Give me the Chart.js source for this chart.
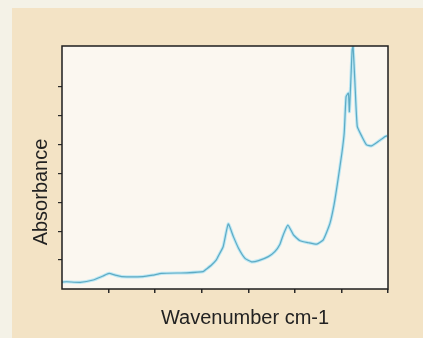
<!DOCTYPE html>
<html>
<head>
<meta charset="utf-8">
<script src="https://cdn.jsdelivr.net/npm/chart.js@4.4.1/dist/chart.umd.min.js"></script>
<style>
  html, body { margin: 0; padding: 0; width: 423px; height: 338px; overflow: hidden; background: #f4f2e7; }
  #panel { position: absolute; left: 12px; top: 8px; width: 411px; height: 330px; background: #f3e3c5; }
  #wrap { position: absolute; left: 0; top: 0; width: 423px; height: 338px; }
</style>
</head>
<body>
<div id="panel"></div>
<div id="wrap"><canvas id="c" width="423" height="338"></canvas></div>
<script>
// Data (x in axis units 0..7, no tick labels shown)
const wavenumberPos = [0.00, 0.10, 0.39, 0.67, 0.88, 1.01, 1.14, 1.28, 1.74, 1.95, 2.14, 2.68, 3.03, 3.11, 3.21, 3.31, 3.35, 3.46, 3.57, 3.68, 3.79, 3.93, 4.07, 4.22, 4.43, 4.57, 4.68, 4.75, 4.85, 4.97, 5.11, 5.29, 5.47, 5.61, 5.75, 5.84, 5.91, 6.01, 6.06, 6.10, 6.15, 6.17, 6.20, 6.23, 6.25, 6.29, 6.34, 6.44, 6.54, 6.65, 6.79, 6.94, 6.98];
const absorbance    = [0.24, 0.25, 0.23, 0.31, 0.45, 0.54, 0.48, 0.43, 0.43, 0.48, 0.54, 0.56, 0.60, 0.70, 0.83, 1.00, 1.12, 1.46, 2.25, 1.81, 1.41, 1.06, 0.94, 0.98, 1.12, 1.29, 1.55, 1.87, 2.21, 1.87, 1.67, 1.60, 1.55, 1.70, 2.25, 2.90, 3.60, 4.70, 5.40, 6.65, 6.77, 6.13, 7.13, 8.27, 8.38, 7.13, 5.62, 5.27, 4.98, 4.95, 5.10, 5.27, 5.30];
const xTickValues = [1, 2, 3, 4, 5, 6, 7];
const yTickValues = [1, 2, 3, 4, 5, 6, 7];
const xTitle = 'Wavenumber cm-1';
const yTitle = 'Absorbance';

const points = wavenumberPos.map((x, i) => ({ x: x, y: absorbance[i] }));

const framePlugin = {
  id: 'frame',
  beforeDatasetsDraw(chart) {
    const { ctx, chartArea: a } = chart;
    ctx.save();
    ctx.fillStyle = '#fbf7f0';
    ctx.fillRect(a.left, a.top, a.right - a.left, a.bottom - a.top);
    ctx.restore();
  },
  afterDraw(chart) {
    const { ctx, chartArea: a } = chart;
    ctx.save();
    ctx.strokeStyle = '#1e1e1e';
    ctx.lineWidth = 1.5;
    ctx.strokeRect(a.left, a.top, a.right - a.left, a.bottom - a.top);
    ctx.fillStyle = '#222222';
    ctx.font = '20px "Liberation Sans", Arial, sans-serif';
    ctx.textAlign = 'center';
    ctx.textBaseline = 'middle';
    ctx.fillText(xTitle, 245, 318);
    ctx.translate(41, 192);
    ctx.rotate(-Math.PI / 2);
    ctx.fillText(yTitle, 0, 0);
    ctx.restore();
  }
};

new Chart(document.getElementById('c'), {
  type: 'line',
  data: {
    datasets: [
      { data: points, borderColor: '#5eabc4', borderWidth: 1.2, pointRadius: 0, tension: 0.15, fill: false, order: 0 },
      { data: points, borderColor: 'rgba(175,228,244,0.85)', borderWidth: 3.2, pointRadius: 0, tension: 0.15, fill: false, order: 1 }
    ]
  },
  options: {
    responsive: false,
    animation: false,
    events: [],
    layout: { padding: { left: 58, top: 46, right: 35, bottom: 45 } },
    plugins: { legend: { display: false }, tooltip: { enabled: false }, title: { display: false } },
    scales: {
      x: {
        type: 'linear', min: 0, max: 7,
        afterBuildTicks: s => { s.ticks = xTickValues.map(v => ({ value: v })); },
        afterFit: s => { s.height = 4; },
        ticks: { display: false },
        grid: { drawOnChartArea: false, drawTicks: true, tickLength: 4, color: '#2a2a2a', lineWidth: 1.5 },
        border: { display: false }
      },
      y: {
        type: 'linear', min: 0, max: 8.4,
        afterBuildTicks: s => { s.ticks = yTickValues.map(v => ({ value: v })); },
        afterFit: s => { s.width = 4; },
        ticks: { display: false },
        grid: { drawOnChartArea: false, drawTicks: true, tickLength: 4, color: '#2a2a2a', lineWidth: 1.2 },
        border: { display: false }
      }
    }
  },
  plugins: [framePlugin]
});
</script>
</body>
</html>
